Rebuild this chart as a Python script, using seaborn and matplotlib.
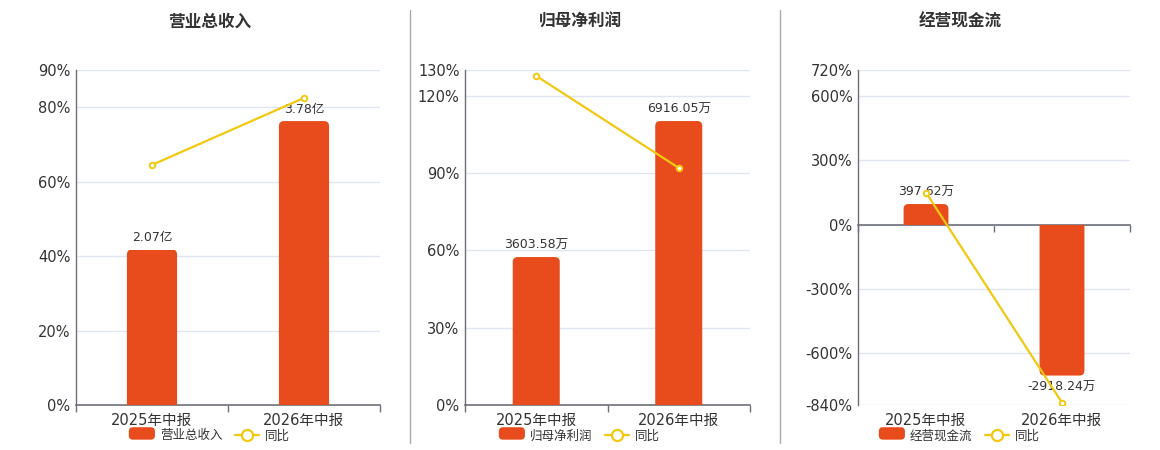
import numpy as np
import pandas as pd
import seaborn as sns
import matplotlib.pyplot as plt
from matplotlib.lines import Line2D
from matplotlib.patches import FancyBboxPatch, Rectangle
from matplotlib.ticker import FuncFormatter, FixedLocator

# data
periods = ["2025年中报", "2026年中报"]

revenue = [2.07, 3.78]            # 亿
revenue_labels = ["2.07亿", "3.78亿"]
revenue_yoy = [64.5, 82.5]        # %

net_profit = [3603.58, 6916.05]   # 万
net_profit_labels = ["3603.58万", "6916.05万"]
net_profit_yoy = [127.7, 92.0]

cash_flow = [397.62, -2918.24]    # 万
cash_flow_labels = ["397.62万", "-2918.24万"]
cash_flow_yoy = [149.0, -829.0]

titles = ["营业总收入", "归母净利润", "经营现金流"]
pct_ticks = [[0, 20, 40, 60, 80, 90],
             [0, 30, 60, 90, 120, 130],
             [-840, -600, -300, 0, 300, 600, 720]]

BAR = "#e84c1d"
LINE = "#f2c811"
AXIS = "#6e7079"
GRID = "#e0e6f1"
TEXT = "#333333"

sns.set_theme(style="white")
plt.rcParams['font.family'] = ['DejaVu Sans', 'Noto Sans CJK SC']
plt.rcParams['axes.unicode_minus'] = False

W, H = 1160, 450
fig = plt.figure(figsize=(W / 100, H / 100), dpi=100)

# axes boxes in pixels: left, right, top, bottom
boxes = [(76, 380, 70, 405), (465, 750, 70, 405), (858, 1130, 70, 405)]
bar_limits = [(0, 4.46), (0, 8159), (-3487, 2988)]
title_x = [210, 580, 960]

panels = [
    (revenue, revenue_labels, revenue_yoy),
    (net_profit, net_profit_labels, net_profit_yoy),
    (cash_flow, cash_flow_labels, cash_flow_yoy),
]


class RoundBarHandler:
    # legend key: small rounded orange block
    def legend_artist(self, legend, orig_handle, fontsize, handlebox):
        x0, y0 = handlebox.xdescent, handlebox.ydescent
        w, h = handlebox.width, handlebox.height
        p = FancyBboxPatch((x0 - w * 0.05, y0 - h * 0.1), w * 1.1, h * 1.2,
                           boxstyle="round,pad=0,rounding_size=3",
                           fc=BAR, ec="none", transform=handlebox.get_transform())
        handlebox.add_artist(p)
        return p


for i, (vals, labels, yoy) in enumerate(panels):
    l, r, t, b = boxes[i]
    rect = [l / W, 1 - b / H, (r - l) / W, (b - t) / H]
    ax = fig.add_axes(rect)
    ax_bar = ax.twinx()
    ax_line = ax.twinx()

    ticks = pct_ticks[i]
    ylim = (ticks[0], ticks[-1])

    # bars
    df = pd.DataFrame({"period": periods, "value": vals})
    sns.barplot(data=df, x="period", y="value", ax=ax_bar, color=BAR,
                saturation=1, width=0.33, errorbar=None)
    ax_bar.set_ylim(*bar_limits[i])
    ax_bar.set_xlim(-0.5, 1.5)

    # rounded ends: one rounded box reaching past the baseline, clipped at it
    px_x = (r - l) / 2.0
    px_y = (b - t) / (bar_limits[i][1] - bar_limits[i][0])
    rad = 5.0
    ext = 2 * rad / px_y
    for p in list(ax_bar.containers[0]):
        x, w, h = p.get_x(), p.get_width(), p.get_height()
        if h >= 0:
            y0, hh = -ext, h + ext
        else:
            y0, hh = h, -h + ext
        fb = FancyBboxPatch((x, y0), w, hh,
                            boxstyle=f"round,pad=0,rounding_size={rad / px_x}",
                            mutation_aspect=px_x / px_y,
                            fc=BAR, ec="none", lw=0)
        ax_bar.add_patch(fb)
        clip = Rectangle((x - w, min(0, h)), 3 * w, abs(h),
                         transform=ax_bar.transData)
        fb.set_clip_path(clip)
        p.set_visible(False)
    ax_bar.bar_label(ax_bar.containers[0], labels=labels, padding=4,
                     fontsize=9, color=TEXT)

    # yoy line
    dl = pd.DataFrame({"period": periods, "yoy": yoy})
    sns.pointplot(data=dl, x="period", y="yoy", ax=ax_line, color=LINE,
                  errorbar=None, linewidth=1.6, marker="o", markersize=4,
                  markerfacecolor="white", markeredgecolor=LINE,
                  markeredgewidth=1.4)
    ax_line.set_ylim(*ylim)
    ax_line.set_xlim(-0.5, 1.5)

    # percent axis + grid
    ax.set_ylim(*ylim)
    ax.yaxis.set_major_locator(FixedLocator(ticks))
    ax.yaxis.set_major_formatter(FuncFormatter(lambda v, pos: f"{v:.0f}%"))
    ax.tick_params(axis="y", length=0, pad=4, labelsize=10.5, labelcolor=TEXT)
    ax.grid(axis="y", color=GRID, lw=1)
    ax.grid(axis="x", visible=False)
    ax.set_axisbelow(True)
    for s in ["top", "right"]:
        ax.spines[s].set_visible(False)
    ax.spines["left"].set_color(AXIS)
    ax.spines["bottom"].set_color(AXIS)
    ax.spines["left"].set_linewidth(1)
    ax.spines["bottom"].set_linewidth(1.2)
    ax.spines["bottom"].set_position(("data", 0))

    ax.set_xlim(-0.5, 1.5)
    ax.xaxis.set_minor_locator(FixedLocator([-0.5, 0.5, 1.5]))
    ax.tick_params(axis="x", which="minor", length=5, width=1, color=AXIS,
                   direction="out", bottom=True)
    ax.tick_params(axis="x", which="major", length=0, labelbottom=False)

    # category labels at the bottom of the box
    ax_line.xaxis.set_visible(True)
    ax_line.tick_params(axis="x", which="major", length=0, pad=6,
                        labelsize=10.5, labelcolor=TEXT, labelbottom=True)
    ax_line.tick_params(axis="x", which="minor", length=0)
    for a in (ax_bar, ax_line):
        a.yaxis.set_visible(False)
        for s in a.spines.values():
            s.set_visible(False)
        a.set_xlabel("")
        a.set_ylabel("")
    ax.set_xlabel("")
    ax.set_ylabel("")

    # title
    fig.text(title_x[i] / W, 1 - 22 / H, titles[i], ha="center", va="center",
             fontsize=12, fontweight="bold", color=TEXT)

    # legend under the panel
    bar_key = Rectangle((0, 0), 1, 1)
    line_key = Line2D([], [], color=LINE, lw=1.6, marker="o", markersize=8,
                      markerfacecolor="white", markeredgecolor=LINE,
                      markeredgewidth=1.6)
    ax_line.legend([bar_key, line_key], [titles[i], "同比"], loc="center",
                   bbox_to_anchor=(title_x[i] / W, 1 - 436 / H),
                   bbox_transform=fig.transFigure, ncol=2, frameon=False,
                   fontsize=9, handlelength=1.9, handleheight=0.9,
                   columnspacing=1.0, handletextpad=0.5, labelcolor=TEXT,
                   handler_map={Rectangle: RoundBarHandler()})

# separators between panels
for xs in (410, 780):
    fig.add_artist(Line2D([xs / W, xs / W], [1 - 10 / H, 1 - 443 / H],
                          color="#aaaaaa", lw=1))

fig.savefig("out.png", dpi=100, facecolor="white")
